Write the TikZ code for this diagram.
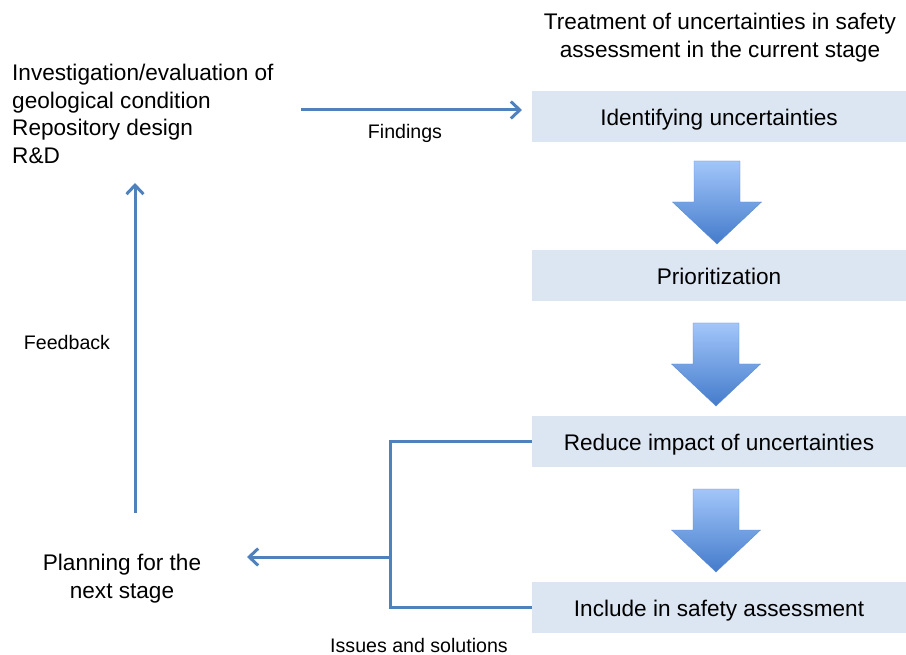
\documentclass[tikz,border=0pt]{standalone}
\usepackage{fontspec}
\setmainfont{Liberation Sans}
\usetikzlibrary{arrows.meta}
\definecolor{lineblue}{HTML}{4F81BD}
\definecolor{boxfill}{HTML}{DCE6F2}
\definecolor{arrtop}{HTML}{A2C6FA}
\definecolor{arrbot}{HTML}{447BCB}
\definecolor{arredge}{HTML}{5B8AD0}
\begin{document}
\begin{tikzpicture}[x=1pt,y=-1pt,
  stagebox/.style={fill=boxfill, minimum width=374pt, minimum height=51pt,
    inner sep=0pt, text height=19pt, text depth=1pt,
    font=\fontsize{22.6}{27.7}\selectfont},
  bigtext/.style={inner sep=0pt, font=\fontsize{22.6}{27.7}\selectfont},
  smalltext/.style={inner sep=0pt, font=\fontsize{19.6}{22}\selectfont},
  flow/.style={draw=lineblue, line width=3pt},
  flowtip/.style={flow, -{Straight Barb[length=9pt, width=17pt, line width=3pt]}},
  downarrow/.pic={
    \shade[top color=arrtop, bottom color=arrbot, draw=arredge, line width=0.4pt]
      (-23,0) -- (23,0) -- (23,41) -- (44.5,41) -- (0,83)
      -- (-44.5,41) -- (-23,41) -- cycle;}]
\useasboundingbox (0,0) rectangle (906,655);

% stages of the uncertainty treatment
\node[bigtext, align=center] (title) at (720,38)
  {Treatment of uncertainties in safety\\assessment in the current stage};
\node[stagebox] (identify) at (719,117) {Identifying uncertainties};
\node[stagebox] (prior) at (719,275.5) {Prioritization};
\node[stagebox] (reduce) at (719,441.5) {Reduce impact of uncertainties};
\node[stagebox] (include) at (719,607) {Include in safety assessment};

% block arrows between the stages
\pic at (717,161) {downarrow};
\pic at (716,323) {downarrow};
\pic at (716,489) {downarrow};

% left column
\node[bigtext, align=left, anchor=west] (invest) at (12,114)
  {Investigation/evaluation of\\geological condition\\Repository design\\R\&D};
\node[bigtext, align=center] (plan) at (122,579)
  {Planning for the\\next stage};

% connectors
\coordinate (findS) at (301,110);
\coordinate (findE) at (522,110);
\draw[flowtip] (findS) -- (findE);
\node[smalltext] (findings) at (405,133) {Findings};

\coordinate (fbS) at (135,513);
\coordinate (fbE) at (135,183);
\draw[flowtip] (fbS) -- (fbE);
\node[smalltext] (feedback) at (67,342) {Feedback};

\coordinate (join) at (390,557);
\draw[flow] (reduce.west) -| (join) |- (include.west);
\coordinate (planE) at (247,557);
\draw[flowtip] (join) -- (planE);
\node[smalltext] (issues) at (419,645) {Issues and solutions};
\end{tikzpicture}
\end{document}
